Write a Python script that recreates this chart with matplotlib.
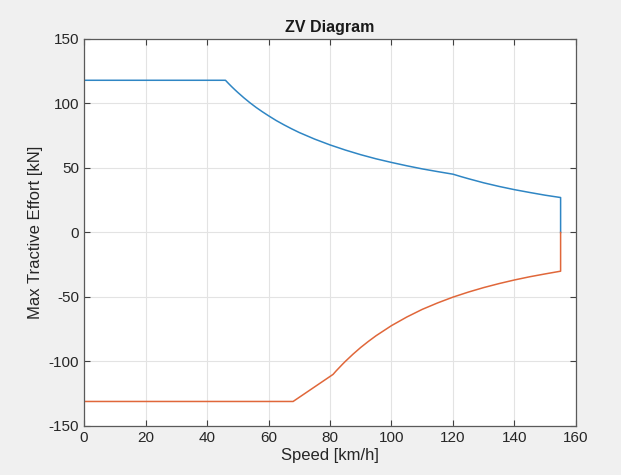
import matplotlib.pyplot as plt

# Traction (blue) curve
speed_trac = [0, 46, 47, 48, 49, 50, 52, 54, 56, 58, 60, 62.5, 65, 67.5, 70,
              75, 80, 85, 90, 95, 100, 105, 110, 115, 120, 122.5, 125, 130,
              135, 140, 145, 150, 155, 155]
force_trac = [118, 118, 115.5, 113.1, 110.8, 108.6, 104.4, 100.5, 96.9, 93.6,
              90.5, 86.8, 83.5, 80.4, 77.5, 72.4, 67.9, 63.9, 60.3, 57.1, 54.3,
              51.7, 49.3, 47.2, 45.2, 43.4, 41.7, 38.5, 35.7, 33.2, 31.0, 28.9,
              27.1, 0]

# Braking (red) curve
speed_brake = [0, 68, 81, 82, 83, 84, 85, 87.5, 90, 92.5, 95, 100, 105, 110,
               115, 120, 125, 130, 135, 140, 145, 150, 155, 155]
force_brake = [-131, -131, -110, -107.3, -104.8, -102.3, -99.9, -94.3, -89.1,
               -84.4, -80.0, -72.2, -65.5, -59.6, -54.6, -50.1, -46.2, -42.7,
               -39.6, -36.8, -34.3, -32.1, -30.0, 0]

xticks = list(range(0, 161, 20))
yticks = list(range(-150, 151, 50))

plt.rcParams["font.family"] = ["Liberation Sans", "DejaVu Sans"]
plt.rcParams["axes.unicode_minus"] = False

fig = plt.figure(figsize=(6.21, 4.75), dpi=100, facecolor="#f0f0f0")
ax = fig.add_axes([0.1353, 0.1032, 0.7922, 0.8147])
ax.set_facecolor("white")

ax.plot(speed_trac, force_trac, color="#2f86c4", lw=1.1)
ax.plot(speed_brake, force_brake, color="#e0673a", lw=1.1)

ax.set_xlim(0, 160)
ax.set_ylim(-150, 150)
ax.set_xticks(xticks)
ax.set_yticks(yticks)
ax.grid(True, color="#e3e3e3", lw=0.8)
ax.set_axisbelow(True)
ax.tick_params(direction="in", top=True, right=True, length=4, width=0.8,
               color="#404040", labelsize=11, labelcolor="#262626")
for s in ax.spines.values():
    s.set_color("#5a5a5a")
    s.set_linewidth(0.9)

ax.set_title("ZV Diagram", fontsize=11.5, fontweight="bold", color="#1a1a1a", pad=5)
ax.set_xlabel("Speed [km/h]", fontsize=12, color="#262626", labelpad=2)
ax.set_ylabel("Max Tractive Effort [kN]", fontsize=12, color="#262626", labelpad=4)

fig.savefig("out.png", dpi=100, facecolor=fig.get_facecolor())
